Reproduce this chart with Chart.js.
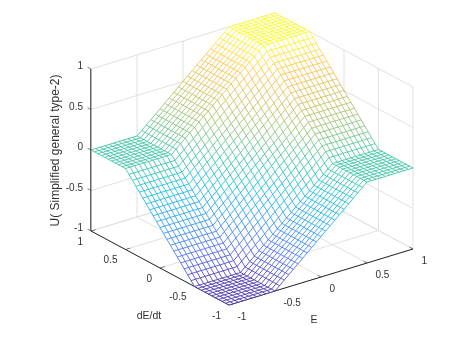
<!DOCTYPE html>
<html>
<head>
<meta charset="utf-8">
<title>U surface</title>
<script src="https://cdn.jsdelivr.net/npm/chart.js@4"></script>
<style>
  body { margin: 0; background: #fff; }
  canvas { display: block; }
</style>
</head>
<body>
<canvas id="surfaceChart" width="452" height="345"></canvas>
<script>
// axis ticks
const eTicks = [-1, -0.5, 0, 0.5, 1];
const dEdtTicks = [-1, -0.5, 0, 0.5, 1];
const uTicks = [-1, -0.5, 0, 0.5, 1];

// mesh positions
const eGrid = [-1,-.95,-.9,-.85,-.8,-.75,-.7,-.65,-.6,-.55,-.5,-.45,-.4,-.35,-.3,-.25,-.2,-.15,-.1,-.05,0,.05,.1,.15,.2,.25,.3,.35,.4,.45,.5,.55,.6,.65,.7,.75,.8,.85,.9,.95,1];
const dEdtGrid = [-1,-.95,-.9,-.85,-.8,-.75,-.7,-.65,-.6,-.55,-.5,-.45,-.4,-.35,-.3,-.25,-.2,-.15,-.1,-.05,0,.05,.1,.15,.2,.25,.3,.35,.4,.45,.5,.55,.6,.65,.7,.75,.8,.85,.9,.95,1];

// U, one row per dE/dt, one column per E
const rowLow = [-1,-1,-1,-1,-1,-1,-1,-1,-1,-1,-1,-.95,-.9,-.85,-.8,-.75,-.7,-.65,-.6,-.55,-.5,-.45,-.4,-.35,-.3,-.25,-.2,-.15,-.1,-.05,0,0,0,0,0,0,0,0,0,0,0];
const rowHigh = [0,0,0,0,0,0,0,0,0,0,0,.05,.1,.15,.2,.25,.3,.35,.4,.45,.5,.55,.6,.65,.7,.75,.8,.85,.9,.95,1,1,1,1,1,1,1,1,1,1,1];
const uRows = [
  rowLow, rowLow, rowLow, rowLow, rowLow, rowLow, rowLow, rowLow, rowLow, rowLow, rowLow,
  [-.95,-.95,-.95,-.95,-.95,-.95,-.95,-.95,-.95,-.95,-.95,-.9,-.85,-.8,-.75,-.7,-.65,-.6,-.55,-.5,-.45,-.4,-.35,-.3,-.25,-.2,-.15,-.1,-.05,0,.05,.05,.05,.05,.05,.05,.05,.05,.05,.05,.05],
  [-.9,-.9,-.9,-.9,-.9,-.9,-.9,-.9,-.9,-.9,-.9,-.85,-.8,-.75,-.7,-.65,-.6,-.55,-.5,-.45,-.4,-.35,-.3,-.25,-.2,-.15,-.1,-.05,0,.05,.1,.1,.1,.1,.1,.1,.1,.1,.1,.1,.1],
  [-.85,-.85,-.85,-.85,-.85,-.85,-.85,-.85,-.85,-.85,-.85,-.8,-.75,-.7,-.65,-.6,-.55,-.5,-.45,-.4,-.35,-.3,-.25,-.2,-.15,-.1,-.05,0,.05,.1,.15,.15,.15,.15,.15,.15,.15,.15,.15,.15,.15],
  [-.8,-.8,-.8,-.8,-.8,-.8,-.8,-.8,-.8,-.8,-.8,-.75,-.7,-.65,-.6,-.55,-.5,-.45,-.4,-.35,-.3,-.25,-.2,-.15,-.1,-.05,0,.05,.1,.15,.2,.2,.2,.2,.2,.2,.2,.2,.2,.2,.2],
  [-.75,-.75,-.75,-.75,-.75,-.75,-.75,-.75,-.75,-.75,-.75,-.7,-.65,-.6,-.55,-.5,-.45,-.4,-.35,-.3,-.25,-.2,-.15,-.1,-.05,0,.05,.1,.15,.2,.25,.25,.25,.25,.25,.25,.25,.25,.25,.25,.25],
  [-.7,-.7,-.7,-.7,-.7,-.7,-.7,-.7,-.7,-.7,-.7,-.65,-.6,-.55,-.5,-.45,-.4,-.35,-.3,-.25,-.2,-.15,-.1,-.05,0,.05,.1,.15,.2,.25,.3,.3,.3,.3,.3,.3,.3,.3,.3,.3,.3],
  [-.65,-.65,-.65,-.65,-.65,-.65,-.65,-.65,-.65,-.65,-.65,-.6,-.55,-.5,-.45,-.4,-.35,-.3,-.25,-.2,-.15,-.1,-.05,0,.05,.1,.15,.2,.25,.3,.35,.35,.35,.35,.35,.35,.35,.35,.35,.35,.35],
  [-.6,-.6,-.6,-.6,-.6,-.6,-.6,-.6,-.6,-.6,-.6,-.55,-.5,-.45,-.4,-.35,-.3,-.25,-.2,-.15,-.1,-.05,0,.05,.1,.15,.2,.25,.3,.35,.4,.4,.4,.4,.4,.4,.4,.4,.4,.4,.4],
  [-.55,-.55,-.55,-.55,-.55,-.55,-.55,-.55,-.55,-.55,-.55,-.5,-.45,-.4,-.35,-.3,-.25,-.2,-.15,-.1,-.05,0,.05,.1,.15,.2,.25,.3,.35,.4,.45,.45,.45,.45,.45,.45,.45,.45,.45,.45,.45],
  [-.5,-.5,-.5,-.5,-.5,-.5,-.5,-.5,-.5,-.5,-.5,-.45,-.4,-.35,-.3,-.25,-.2,-.15,-.1,-.05,0,.05,.1,.15,.2,.25,.3,.35,.4,.45,.5,.5,.5,.5,.5,.5,.5,.5,.5,.5,.5],
  [-.45,-.45,-.45,-.45,-.45,-.45,-.45,-.45,-.45,-.45,-.45,-.4,-.35,-.3,-.25,-.2,-.15,-.1,-.05,0,.05,.1,.15,.2,.25,.3,.35,.4,.45,.5,.55,.55,.55,.55,.55,.55,.55,.55,.55,.55,.55],
  [-.4,-.4,-.4,-.4,-.4,-.4,-.4,-.4,-.4,-.4,-.4,-.35,-.3,-.25,-.2,-.15,-.1,-.05,0,.05,.1,.15,.2,.25,.3,.35,.4,.45,.5,.55,.6,.6,.6,.6,.6,.6,.6,.6,.6,.6,.6],
  [-.35,-.35,-.35,-.35,-.35,-.35,-.35,-.35,-.35,-.35,-.35,-.3,-.25,-.2,-.15,-.1,-.05,0,.05,.1,.15,.2,.25,.3,.35,.4,.45,.5,.55,.6,.65,.65,.65,.65,.65,.65,.65,.65,.65,.65,.65],
  [-.3,-.3,-.3,-.3,-.3,-.3,-.3,-.3,-.3,-.3,-.3,-.25,-.2,-.15,-.1,-.05,0,.05,.1,.15,.2,.25,.3,.35,.4,.45,.5,.55,.6,.65,.7,.7,.7,.7,.7,.7,.7,.7,.7,.7,.7],
  [-.25,-.25,-.25,-.25,-.25,-.25,-.25,-.25,-.25,-.25,-.25,-.2,-.15,-.1,-.05,0,.05,.1,.15,.2,.25,.3,.35,.4,.45,.5,.55,.6,.65,.7,.75,.75,.75,.75,.75,.75,.75,.75,.75,.75,.75],
  [-.2,-.2,-.2,-.2,-.2,-.2,-.2,-.2,-.2,-.2,-.2,-.15,-.1,-.05,0,.05,.1,.15,.2,.25,.3,.35,.4,.45,.5,.55,.6,.65,.7,.75,.8,.8,.8,.8,.8,.8,.8,.8,.8,.8,.8],
  [-.15,-.15,-.15,-.15,-.15,-.15,-.15,-.15,-.15,-.15,-.15,-.1,-.05,0,.05,.1,.15,.2,.25,.3,.35,.4,.45,.5,.55,.6,.65,.7,.75,.8,.85,.85,.85,.85,.85,.85,.85,.85,.85,.85,.85],
  [-.1,-.1,-.1,-.1,-.1,-.1,-.1,-.1,-.1,-.1,-.1,-.05,0,.05,.1,.15,.2,.25,.3,.35,.4,.45,.5,.55,.6,.65,.7,.75,.8,.85,.9,.9,.9,.9,.9,.9,.9,.9,.9,.9,.9],
  [-.05,-.05,-.05,-.05,-.05,-.05,-.05,-.05,-.05,-.05,-.05,0,.05,.1,.15,.2,.25,.3,.35,.4,.45,.5,.55,.6,.65,.7,.75,.8,.85,.9,.95,.95,.95,.95,.95,.95,.95,.95,.95,.95,.95],
  rowHigh, rowHigh, rowHigh, rowHigh, rowHigh, rowHigh, rowHigh, rowHigh, rowHigh, rowHigh, rowHigh
];

// parula stops, -1 to 1
const colorStops = [[62,38,168],[62,100,250],[30,150,240],[5,186,214],[46,192,160],[135,191,110],[205,187,80],[254,190,60],[249,251,21]];

function colorFor(u) {
  const t = Math.min(Math.max((u + 1) / 2, 0), 1) * (colorStops.length - 1);
  const k = Math.min(Math.floor(t), colorStops.length - 2);
  const f = t - k;
  const a = colorStops[k], b = colorStops[k + 1];
  return 'rgb(' + [0, 1, 2].map(n => Math.round(a[n] + (b[n] - a[n]) * f)).join(',') + ')';
}

// same view as the figure, box corners measured on the picture
function project(e, d, u) {
  return {
    x: 229 + 92 * (e + 1) - 69 * (d + 1),
    y: 305 - 28 * (e + 1) - 37 * (d + 1) - 81 * (u + 1),
    u: u
  };
}

function plainLine(from, to, color, width, order) {
  return {
    data: [project(from[0], from[1], from[2]), project(to[0], to[1], to[2])],
    showLine: true, pointRadius: 0, borderColor: color, borderWidth: width, order: order
  };
}

const datasets = [];

// back walls and floor
const gridColor = 'rgb(224,224,224)';
eTicks.forEach(e => {
  datasets.push(plainLine([e, -1, -1], [e, 1, -1], gridColor, 1, 5));
  datasets.push(plainLine([e, 1, -1], [e, 1, 1], gridColor, 1, 5));
});
dEdtTicks.forEach(d => {
  datasets.push(plainLine([-1, d, -1], [1, d, -1], gridColor, 1, 5));
  datasets.push(plainLine([1, d, -1], [1, d, 1], gridColor, 1, 5));
});
uTicks.forEach(u => {
  datasets.push(plainLine([-1, 1, u], [1, 1, u], gridColor, 1, 5));
  datasets.push(plainLine([1, 1, u], [1, -1, u], gridColor, 1, 5));
});

// axis lines and tick stubs
const axisColor = 'rgb(38,38,38)';
datasets.push(plainLine([-1.002, 1, -1], [-1.002, 1, 1], axisColor, 1, 4));
datasets.push(plainLine([-1, 1, -1], [-1, -1, -1], axisColor, 1, 4));
datasets.push(plainLine([-1, -1, -1], [1, -1, -1], axisColor, 1, 4));
uTicks.forEach(u => datasets.push(plainLine([-1, 1, u], [-1, 1.05, u], axisColor, 0.6, 4)));
dEdtTicks.forEach(d => datasets.push(plainLine([-1, d, -1], [-0.95, d, -1], axisColor, 0.6, 4)));
eTicks.forEach(e => datasets.push(plainLine([e, -1, -1], [e, -0.95, -1], axisColor, 0.6, 4)));

// white faces hide the walls behind the mesh
const last = eGrid.length - 1;
const outline = [];
eGrid.forEach((e, i) => outline.push(project(e, dEdtGrid[0], uRows[0][i])));
dEdtGrid.forEach((d, j) => outline.push(project(eGrid[last], d, uRows[j][last])));
eGrid.slice().reverse().forEach((e, i) => outline.push(project(e, dEdtGrid[last], uRows[last][last - i])));
dEdtGrid.slice().reverse().forEach((d, j) => outline.push(project(eGrid[0], d, uRows[last - j][0])));
datasets.push({
  data: outline, showLine: true, pointRadius: 0, borderWidth: 0,
  backgroundColor: '#fff', fill: 'shape', order: 3
});

// mesh
const meshSegment = {
  borderColor: ctx => colorFor((ctx.p0.raw.u + ctx.p1.raw.u) / 2)
};
dEdtGrid.forEach((d, j) => {
  datasets.push({
    data: eGrid.map((e, i) => project(e, d, uRows[j][i])),
    showLine: true, pointRadius: 0, borderWidth: 0.8, segment: meshSegment, order: 1
  });
});
eGrid.forEach((e, i) => {
  datasets.push({
    data: dEdtGrid.map((d, j) => project(e, d, uRows[j][i])),
    showLine: true, pointRadius: 0, borderWidth: 0.8, segment: meshSegment, order: 1
  });
});

const textColor = 'rgb(50,50,50)';
const axisText = {
  id: 'axisText',
  afterDraw(chart) {
    const c = chart.ctx;
    const sx = chart.scales.x, sy = chart.scales.y;
    function put(text, p, dx, dy, align) {
      c.textAlign = align;
      c.fillText(text, sx.getPixelForValue(p.x) + dx, sy.getPixelForValue(p.y) + dy);
    }
    c.save();
    c.fillStyle = textColor;
    c.textBaseline = 'middle';
    c.font = '10px "Liberation Sans"';
    uTicks.forEach(u => put(String(u), project(-1, 1, u), -8, -2.5, 'right'));
    dEdtTicks.forEach(d => put(String(d), project(-1, d, -1), -8, 11, 'right'));
    eTicks.forEach(e => put(String(e), project(e, -1, -1), 8.5, 12.5, 'left'));
    c.font = '10.5px "Liberation Sans"';
    c.textAlign = 'center';
    c.fillText('dE/dt', 149, 316);
    c.fillText('E', 314, 320);
    c.translate(56, 150.5);
    c.rotate(-Math.PI / 2);
    c.font = '12px "Liberation Sans"';
    c.fillText('U( Simplified general type-2)', 0, 0);
    c.restore();
  }
};

const ctx = document.getElementById('surfaceChart').getContext('2d');
const surfaceChart = new Chart(ctx, {
  type: 'scatter',
  data: { datasets: datasets },
  options: {
    responsive: false,
    animation: false,
    events: [],
    layout: { padding: 0 },
    elements: { line: { tension: 0 } },
    plugins: { legend: { display: false }, tooltip: { enabled: false } },
    scales: {
      x: { type: 'linear', display: false, min: 0, max: 452 },
      y: { type: 'linear', display: false, min: 0, max: 345, reverse: true }
    }
  },
  plugins: [axisText]
});
</script>
</body>
</html>
